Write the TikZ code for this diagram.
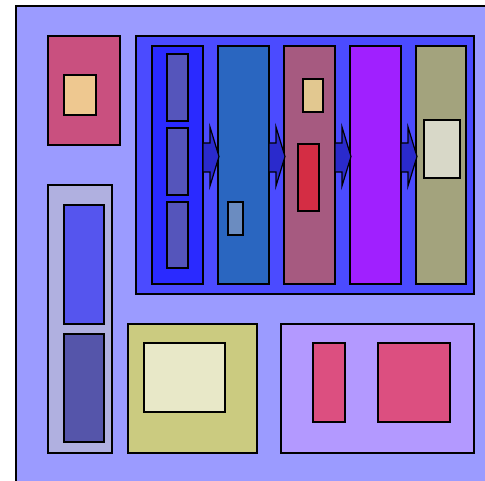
\documentclass[tikz,border=0pt]{standalone}
\usetikzlibrary{calc}
\definecolor{bgc}{HTML}{9B9BFF}
\definecolor{pinkc}{HTML}{C9507F}
\definecolor{tanc}{HTML}{EEC890}
\definecolor{lgrey}{HTML}{B0B0E0}
\definecolor{lblue}{HTML}{5555EE}
\definecolor{dslate}{HTML}{5555AA}
\definecolor{contc}{HTML}{4B4BFF}
\definecolor{colA}{HTML}{2A2AFF}
\definecolor{colAin}{HTML}{5555BB}
\definecolor{colB}{HTML}{2A66C0}
\definecolor{colBin}{HTML}{6B8CC0}
\definecolor{colC}{HTML}{A65A80}
\definecolor{colCtan}{HTML}{E2C890}
\definecolor{colCred}{HTML}{D42D44}
\definecolor{colD}{HTML}{A020FF}
\definecolor{colE}{HTML}{A3A37D}
\definecolor{colEin}{HTML}{D8D8C8}
\definecolor{yelc}{HTML}{CBCB80}
\definecolor{yelin}{HTML}{E8E8C8}
\definecolor{lilac}{HTML}{B399FF}
\definecolor{rosec}{HTML}{DC4F80}
\definecolor{arrowc}{HTML}{2A2ACC}
\tikzset{
  box/.style={draw=black,line width=1.6pt,inner sep=0pt,outer sep=0pt,anchor=north west},
  blockarr/.style={draw=black,line width=1.2pt,fill=arrowc,line join=miter}
}
\newcommand\mybox[6]{\node[box,fill=#2,minimum width={(#5-#3)*1pt},minimum height={(#6-#4)*1pt}] (#1) at (#3,#4) {};}
\newcommand\myarrow[2]{%
  \draw[blockarr] (#1.east |- 0,143) -- ++(7,0) -- ++(0,-16)
    -- ($(#2.west |- 0,156.5)+(1,0)$)
    -- ($(#1.east |- 0,186)+(7,0)$) -- ++(0,-14)
    -- (#1.east |- 0,172) -- cycle;}
\begin{document}
\begin{tikzpicture}[x=1pt,y=-1pt]
\useasboundingbox (0,0) rectangle (485,481);
\clip (0,0) rectangle (485,481);
\mybox{bg}{bgc}{16}{6}{540}{540}
% top-left pink
\mybox{pinkbox}{pinkc}{48}{36}{120}{145}
\mybox{pinkin}{tanc}{64}{75}{96}{115}
% left tall
\mybox{tall}{lgrey}{48}{185}{112}{453}
\mybox{tallA}{lblue}{64}{205}{104}{324}
\mybox{tallB}{dslate}{64}{334}{104}{442}
% container
\mybox{cont}{contc}{136}{36}{474}{294}
\mybox{c1}{colA}{152}{46}{203}{284}
\mybox{c1a}{colAin}{167}{54}{188}{121}
\mybox{c1b}{colAin}{167}{128}{188}{195}
\mybox{c1c}{colAin}{167}{202}{188}{268}
\mybox{c2}{colB}{218}{46}{269}{284}
\mybox{c2a}{colBin}{228}{202}{243}{235}
\mybox{c3}{colC}{284}{46}{335}{284}
\mybox{c3a}{colCtan}{303}{79}{323}{112}
\mybox{c3b}{colCred}{298}{144}{319}{211}
\mybox{c4}{colD}{350}{46}{401}{284}
\mybox{c5}{colE}{416}{46}{466}{284}
\mybox{c5a}{colEin}{424}{120}{460}{178}
\myarrow{c1}{c2}
\myarrow{c2}{c3}
\myarrow{c3}{c4}
\myarrow{c4}{c5}
% bottom yellow
\mybox{yel}{yelc}{128}{324}{257}{453}
\mybox{yelA}{yelin}{144}{343}{225}{412}
% bottom lilac
\mybox{lil}{lilac}{281}{324}{474}{453}
\mybox{lilA}{rosec}{313}{343}{345}{422}
\mybox{lilB}{rosec}{378}{343}{450}{422}
\end{tikzpicture}
\end{document}
